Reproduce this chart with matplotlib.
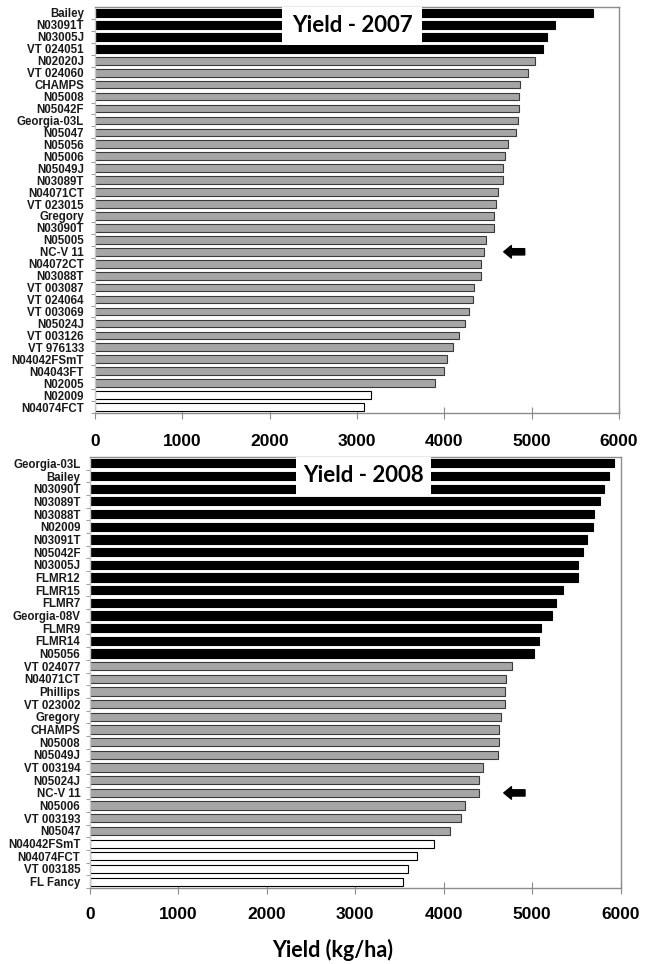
import matplotlib
matplotlib.use('Agg')
import matplotlib.pyplot as plt
from matplotlib.patches import Rectangle

# 2007 trial
lines_2007 = ['Bailey', 'N03091T', 'N03005J', 'VT 024051', 'N02020J', 'VT 024060', 'CHAMPS',
              'N05008', 'N05042F', 'Georgia-03L', 'N05047', 'N05056', 'N05006', 'N05049J',
              'N03089T', 'N04071CT', 'VT 023015', 'Gregory', 'N03090T', 'N05005', 'NC-V 11',
              'N04072CT', 'N03088T', 'VT 003087', 'VT 024064', 'VT 003069', 'N05024J',
              'VT 003126', 'VT 976133', 'N04042FSmT', 'N04043FT', 'N02005', 'N02009', 'N04074FCT']
yield_2007 = [5700, 5270, 5175, 5130, 5040, 4955, 4870, 4855, 4855, 4840, 4825, 4725, 4690, 4675,
              4675, 4610, 4595, 4565, 4565, 4475, 4450, 4420, 4415, 4340, 4330, 4280, 4240,
              4165, 4095, 4030, 4000, 3895, 3160, 3075]
group_2007 = ['top'] * 4 + ['mid'] * 28 + ['low'] * 2

# 2008 trial
lines_2008 = ['Georgia-03L', 'Bailey', 'N03090T', 'N03089T', 'N03088T', 'N02009', 'N03091T',
              'N05042F', 'N03005J', 'FLMR12', 'FLMR15', 'FLMR7', 'Georgia-08V', 'FLMR9', 'FLMR14',
              'N05056', 'VT 024077', 'N04071CT', 'Phillips', 'VT 023002', 'Gregory', 'CHAMPS',
              'N05008', 'N05049J', 'VT 003194', 'N05024J', 'NC-V 11', 'N05006', 'VT 003193',
              'N05047', 'N04042FSmT', 'N04074FCT', 'VT 003185', 'FL Fancy']
yield_2008 = [5930, 5865, 5815, 5770, 5695, 5690, 5625, 5575, 5515, 5515, 5345, 5275, 5225, 5100,
              5080, 5025, 4775, 4700, 4695, 4695, 4650, 4625, 4625, 4620, 4440, 4395, 4395,
              4240, 4195, 4070, 3890, 3700, 3600, 3545]
group_2008 = ['top'] * 16 + ['mid'] * 14 + ['low'] * 4

check_line = 'NC-V 11'
x_ticks = [0, 1000, 2000, 3000, 4000, 5000, 6000]

fill = {'top': 'black', 'mid': '#a6a6a6', 'low': 'white'}
edge = {'top': 'black', 'mid': '#3a3a3a', 'low': 'black'}
spine_col = '#8c8c8c'


def draw_panel(ax, names, vals, groups, title, box, xpad, ypad):
    n = len(names)
    pos = list(range(n))
    ax.barh(pos, vals, height=0.65, color=[fill[g] for g in groups],
            edgecolor=[edge[g] for g in groups], linewidth=0.8, zorder=2)
    ax.set_ylim(n - 0.5, -0.5)
    ax.set_xlim(0, 6000)
    ax.set_yticks(pos)
    ax.set_yticklabels(names, family='Liberation Sans', fontsize=8.3, fontweight='bold',
                       color='#1a1a1a')
    ax.set_yticks([p + 0.5 for p in pos], minor=True)
    ax.tick_params(axis='y', which='major', length=0, pad=ypad)
    ax.tick_params(axis='y', which='minor', length=3, direction='out', color=spine_col)
    ax.set_xticks(x_ticks)
    ax.set_xticklabels([str(t) for t in x_ticks], family='Liberation Sans',
                       fontsize=12.5, fontweight='bold')
    ax.tick_params(axis='x', length=8, direction='inout', color=spine_col, pad=xpad)
    for s in ax.spines.values():
        s.set_color(spine_col)
        s.set_linewidth(1.0)
    ax.spines['left'].set_color('#c8c8c8')

    # title box sitting over the top bars
    x0, x1, y0 = box
    ax.add_patch(Rectangle((x0, y0), x1 - x0, 1 - y0, transform=ax.transAxes,
                           facecolor='white', edgecolor='none', zorder=3))
    ax.text((x0 + x1) / 2, (y0 + 1) / 2, title, transform=ax.transAxes, ha='center',
            va='center', family='Lato', fontweight='bold', fontsize=16, zorder=4)

    # arrow pointing at the check cultivar
    k = names.index(check_line)
    ax.annotate('', xy=(4680, k), xytext=(4920, k),
                arrowprops=dict(facecolor='black', edgecolor='black', width=4.5,
                                headwidth=9, headlength=5.5, shrink=0), zorder=4)


fig = plt.figure(figsize=(6.52, 9.64), dpi=100)
ax1 = fig.add_axes([95 / 652, 1 - 413 / 964, 524 / 652, 406 / 964])
ax2 = fig.add_axes([90 / 652, 1 - 888 / 964, 530.5 / 652, 431 / 964])

draw_panel(ax1, lines_2007, yield_2007, group_2007, 'Yield - 2007', (0.357, 0.624, 0.907), 11, 8)
draw_panel(ax2, lines_2008, yield_2008, group_2008, 'Yield - 2008', (0.388, 0.642, 0.912), 9.5, 7)

fig.text(333 / 652, 1 - 957 / 964, 'Yield (kg/ha)', ha='center', va='baseline',
         family='Lato', fontweight='bold', fontsize=15.5)

fig.savefig('out.png', dpi=100)
